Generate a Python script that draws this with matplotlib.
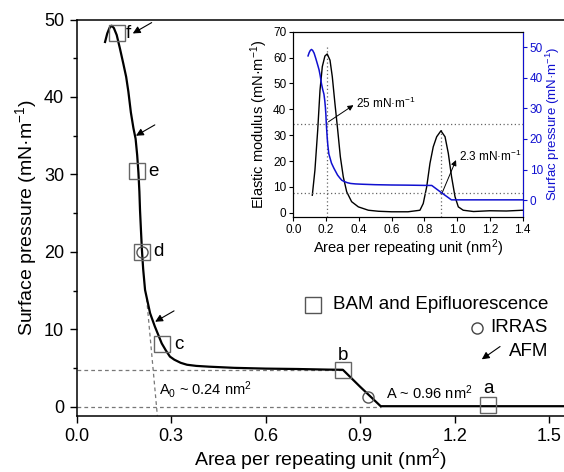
import matplotlib
matplotlib.use("Agg")
import matplotlib.pyplot as plt

plt.rcParams['font.family'] = ['Liberation Sans', 'DejaVu Sans']
plt.rcParams['mathtext.fontset'] = 'custom'
plt.rcParams['mathtext.rm'] = 'Liberation Sans'
plt.rcParams['mathtext.it'] = 'Liberation Sans:italic'
plt.rcParams['mathtext.bf'] = 'Liberation Sans:bold'

# Surface pressure - area isotherm
iso_area = [0.090, 0.097, 0.104, 0.111, 0.118, 0.127, 0.137, 0.148, 0.157,
            0.164, 0.172, 0.180, 0.187, 0.192, 0.196, 0.199, 0.201, 0.204,
            0.207, 0.211, 0.217, 0.225, 0.233, 0.240, 0.248, 0.258, 0.270,
            0.283, 0.296, 0.310, 0.330, 0.350, 0.380, 0.420, 0.500, 0.600,
            0.700, 0.800, 0.845, 0.900, 0.965, 1.050, 1.200, 1.350, 1.550]
iso_pressure = [47.1, 48.2, 48.9, 49.2, 48.9, 48.0, 46.3, 44.3, 42.6,
                40.7, 38.0, 36.0, 34.6, 32.5, 30.2, 27.8, 25.4, 22.8,
                20.3, 17.8, 15.1, 13.6, 12.1, 11.3, 10.4, 9.4, 8.2,
                7.3, 6.5, 6.1, 5.7, 5.45, 5.3, 5.2, 5.05, 4.95,
                4.9, 4.82, 4.8, 2.6, 0.1, 0.1, 0.1, 0.1, 0.1]

# Compressional elastic modulus
mod_area = [0.116, 0.132, 0.149, 0.163, 0.177, 0.193, 0.207, 0.224, 0.238,
            0.254, 0.271, 0.287, 0.305, 0.326, 0.356, 0.397, 0.458, 0.520,
            0.600, 0.700, 0.773, 0.793, 0.814, 0.834, 0.854, 0.875, 0.901,
            0.926, 0.946, 0.966, 0.987, 1.007, 1.037, 1.100, 1.200, 1.300,
            1.400]
mod_value = [6.8, 16.5, 32.0, 47.4, 56.5, 60.6, 61.4, 59.0, 52.6,
             42.3, 32.0, 21.7, 13.9, 8.1, 4.3, 2.3, 1.0, 0.6,
             0.4, 0.4, 1.0, 3.6, 10.0, 19.1, 25.5, 29.4, 31.7,
             29.4, 23.0, 13.9, 6.2, 2.3, 1.0, 0.5, 0.8, 0.7,
             1.0]

# Characterisation points
bam_area = [0.127, 0.190, 0.208, 0.272, 0.846, 1.307]
bam_pressure = [48.2, 30.4, 20.0, 8.1, 4.8, 0.26]
bam_labels = ['f', 'e', 'd', 'c', 'b', 'a']
irras_area = [0.208, 0.926]
irras_pressure = [20.0, 1.25]
afm_area = [0.178, 0.188, 0.249]
afm_pressure = [48.2, 35.0, 11.0]

plateau_pressure = 4.8
lift_off_area = 0.965
a0_line_area = [0.222, 0.256]
a0_line_pressure = [14.0, -1.1]

inset_pressures = [25, 2.3]
inset_peak_area = [0.207, 0.901]

W, H = 564, 472
fig = plt.figure(figsize=(W / 100, H / 100), dpi=100)

# ---------------- main isotherm ----------------
ax = fig.add_axes([76.7 / W, (H - 415.5) / H, (W - 76.7) / W, (415.5 - 19.5) / H])
ax.plot(iso_area, iso_pressure, color='black', lw=1.6, zorder=3,
        solid_joinstyle='round')
ax.set_xlim(0, (W - 76.7) / 315)
ax.set_ylim(-1.1, 50)
ax.set_xticks([0.0, 0.3, 0.6, 0.9, 1.2, 1.5])
ax.set_yticks([0, 10, 20, 30, 40, 50])
ax.set_yticks([5, 15, 25, 35, 45], minor=True)
ax.xaxis.set_major_formatter(matplotlib.ticker.FormatStrFormatter('%.1f'))
ax.tick_params(axis='both', which='major', direction='out', length=5, width=1.0,
               labelsize=13, pad=4)
ax.tick_params(axis='y', which='minor', direction='out', length=3, width=1.0)
ax.spines['right'].set_visible(False)
for s in ('left', 'bottom', 'top'):
    ax.spines[s].set_linewidth(1.1)
ax.set_xlabel('Area per repeating unit (nm$^2$)', fontsize=14, labelpad=1)
ax.set_ylabel('Surface pressure (mN·m$^{-1}$)', fontsize=14, labelpad=4)

# guide lines
dash = dict(color='#777777', lw=0.9, ls=(0, (3, 2.5)), zorder=2)
ax.plot([0, 0.85], [plateau_pressure] * 2, **dash)
ax.plot([0, lift_off_area], [0.05, 0.05], **dash)
ax.plot(a0_line_area, a0_line_pressure, **dash)

ax.text(0.262, 2.2, 'A$_0$ ~ 0.24 nm$^2$', fontsize=10.5, va='center', ha='left')
ax.text(0.983, 1.8, 'A ~ 0.96 nm$^2$', fontsize=10.5, va='center', ha='left')

# markers
ax.plot(bam_area, bam_pressure, ls='none', marker='s', ms=11, mfc='none',
        mec='#666666', mew=1.0, zorder=4)
ax.plot(irras_area, irras_pressure, ls='none', marker='o', ms=8, mfc='none',
        mec='#555555', mew=1.0, zorder=4)

label_off = {'f': (0.030, 0.0, 'left', 'center'),
             'e': (0.038, 0.0, 'left', 'center'),
             'd': (0.036, 0.0, 'left', 'center'),
             'c': (0.037, 0.0, 'left', 'center'),
             'b': (0.0, 1.9, 'center', 'center'),
             'a': (0.0, 2.1, 'center', 'center')}
for xa, ya, lab in zip(bam_area, bam_pressure, bam_labels):
    dx, dy, ha, va = label_off[lab]
    ax.text(xa + dx, ya + dy, lab, fontsize=13.5, ha=ha, va=va)

arrow_kw = dict(arrowstyle='-|>', color='black', lw=0.8, mutation_scale=11,
                shrinkA=0, shrinkB=0)
for xa, ya in zip(afm_area, afm_pressure):
    ax.annotate('', xy=(xa, ya), xytext=(xa + 0.06, ya + 1.4), arrowprops=arrow_kw)

# key
ax.plot([0.751], [13.2], marker='s', ms=11, mfc='none', mec='#555555', mew=1.0)
ax.text(1.496, 13.2, 'BAM and Epifluorescence', fontsize=13.5, ha='right', va='center')
ax.plot([1.27], [10.2], marker='o', ms=8, mfc='none', mec='#444444', mew=1.0)
ax.text(1.496, 10.2, 'IRRAS', fontsize=13.5, ha='right', va='center')
ax.annotate('', xy=(1.286, 6.15), xytext=(1.344, 7.8), arrowprops=arrow_kw)
ax.text(1.496, 7.1, 'AFM', fontsize=13.5, ha='right', va='center')

# ---------------- inset: elastic modulus ----------------
ax2 = fig.add_axes([293.3 / W, (H - 216.7) / H, 229.4 / W, 185 / H])
ax2.plot(mod_area, mod_value, color='black', lw=1.0, zorder=3,
         solid_joinstyle='round')
ax2.set_xlim(0, 1.4)
ax2.set_ylim(-1.5, 70)
ax2.set_xticks([0.0, 0.2, 0.4, 0.6, 0.8, 1.0, 1.2, 1.4])
ax2.set_yticks([0, 10, 20, 30, 40, 50, 60, 70])
ax2.xaxis.set_major_formatter(matplotlib.ticker.FormatStrFormatter('%.1f'))
ax2.tick_params(axis='both', direction='out', length=3, width=0.8, labelsize=8.5, pad=2)
ax2.set_xlabel('Area per repeating unit (nm$^2$)', fontsize=10.5, labelpad=1)
ax2.set_ylabel('Elastic modulus (mN·m$^{-1}$)', fontsize=10.5, labelpad=2)
for s in ('left', 'bottom', 'top'):
    ax2.spines[s].set_linewidth(0.8)

ax3 = ax2.twinx()
blue = '#1010d0'
ax3.plot(iso_area, iso_pressure, color=blue, lw=1.1, zorder=3)
ax3.set_ylim(-5.4, 55)
ax3.set_xlim(0, 1.4)
ax3.set_yticks([0, 10, 20, 30, 40, 50])
ax3.tick_params(axis='y', direction='out', length=3, width=0.8, labelsize=8.5, pad=2,
                colors=blue)
ax3.spines['right'].set_color(blue)
ax3.spines['right'].set_linewidth(0.8)
ax3.set_ylabel('Surfac pressure (mN·m$^{-1}$)', fontsize=9.5, color=blue, labelpad=0.5)

dot = dict(color='#666666', lw=0.9, ls=(0, (1, 2)), zorder=2)
for p in inset_pressures:
    ax3.plot([0, 1.4], [p, p], **dot)
ax2.plot([inset_peak_area[0]] * 2, [-1.5, 64.2], **dot)
ax2.plot([inset_peak_area[1]] * 2, [-1.5, 33.3], **dot)

small_arrow = dict(arrowstyle='-|>', color='black', lw=0.7, mutation_scale=8,
                   shrinkA=0, shrinkB=0)
ax2.annotate('', xy=(0.367, 41.6), xytext=(0.215, 35.2), arrowprops=small_arrow)
ax2.text(0.38, 42.3, '25 mN·m$^{-1}$', fontsize=8.5, ha='left', va='center')
ax2.annotate('', xy=(0.993, 20.4), xytext=(0.907, 7.5), arrowprops=small_arrow)
ax2.text(1.013, 21.7, '2.3 mN·m$^{-1}$', fontsize=8.5, ha='left', va='center')

fig.savefig('out.png', dpi=100)
